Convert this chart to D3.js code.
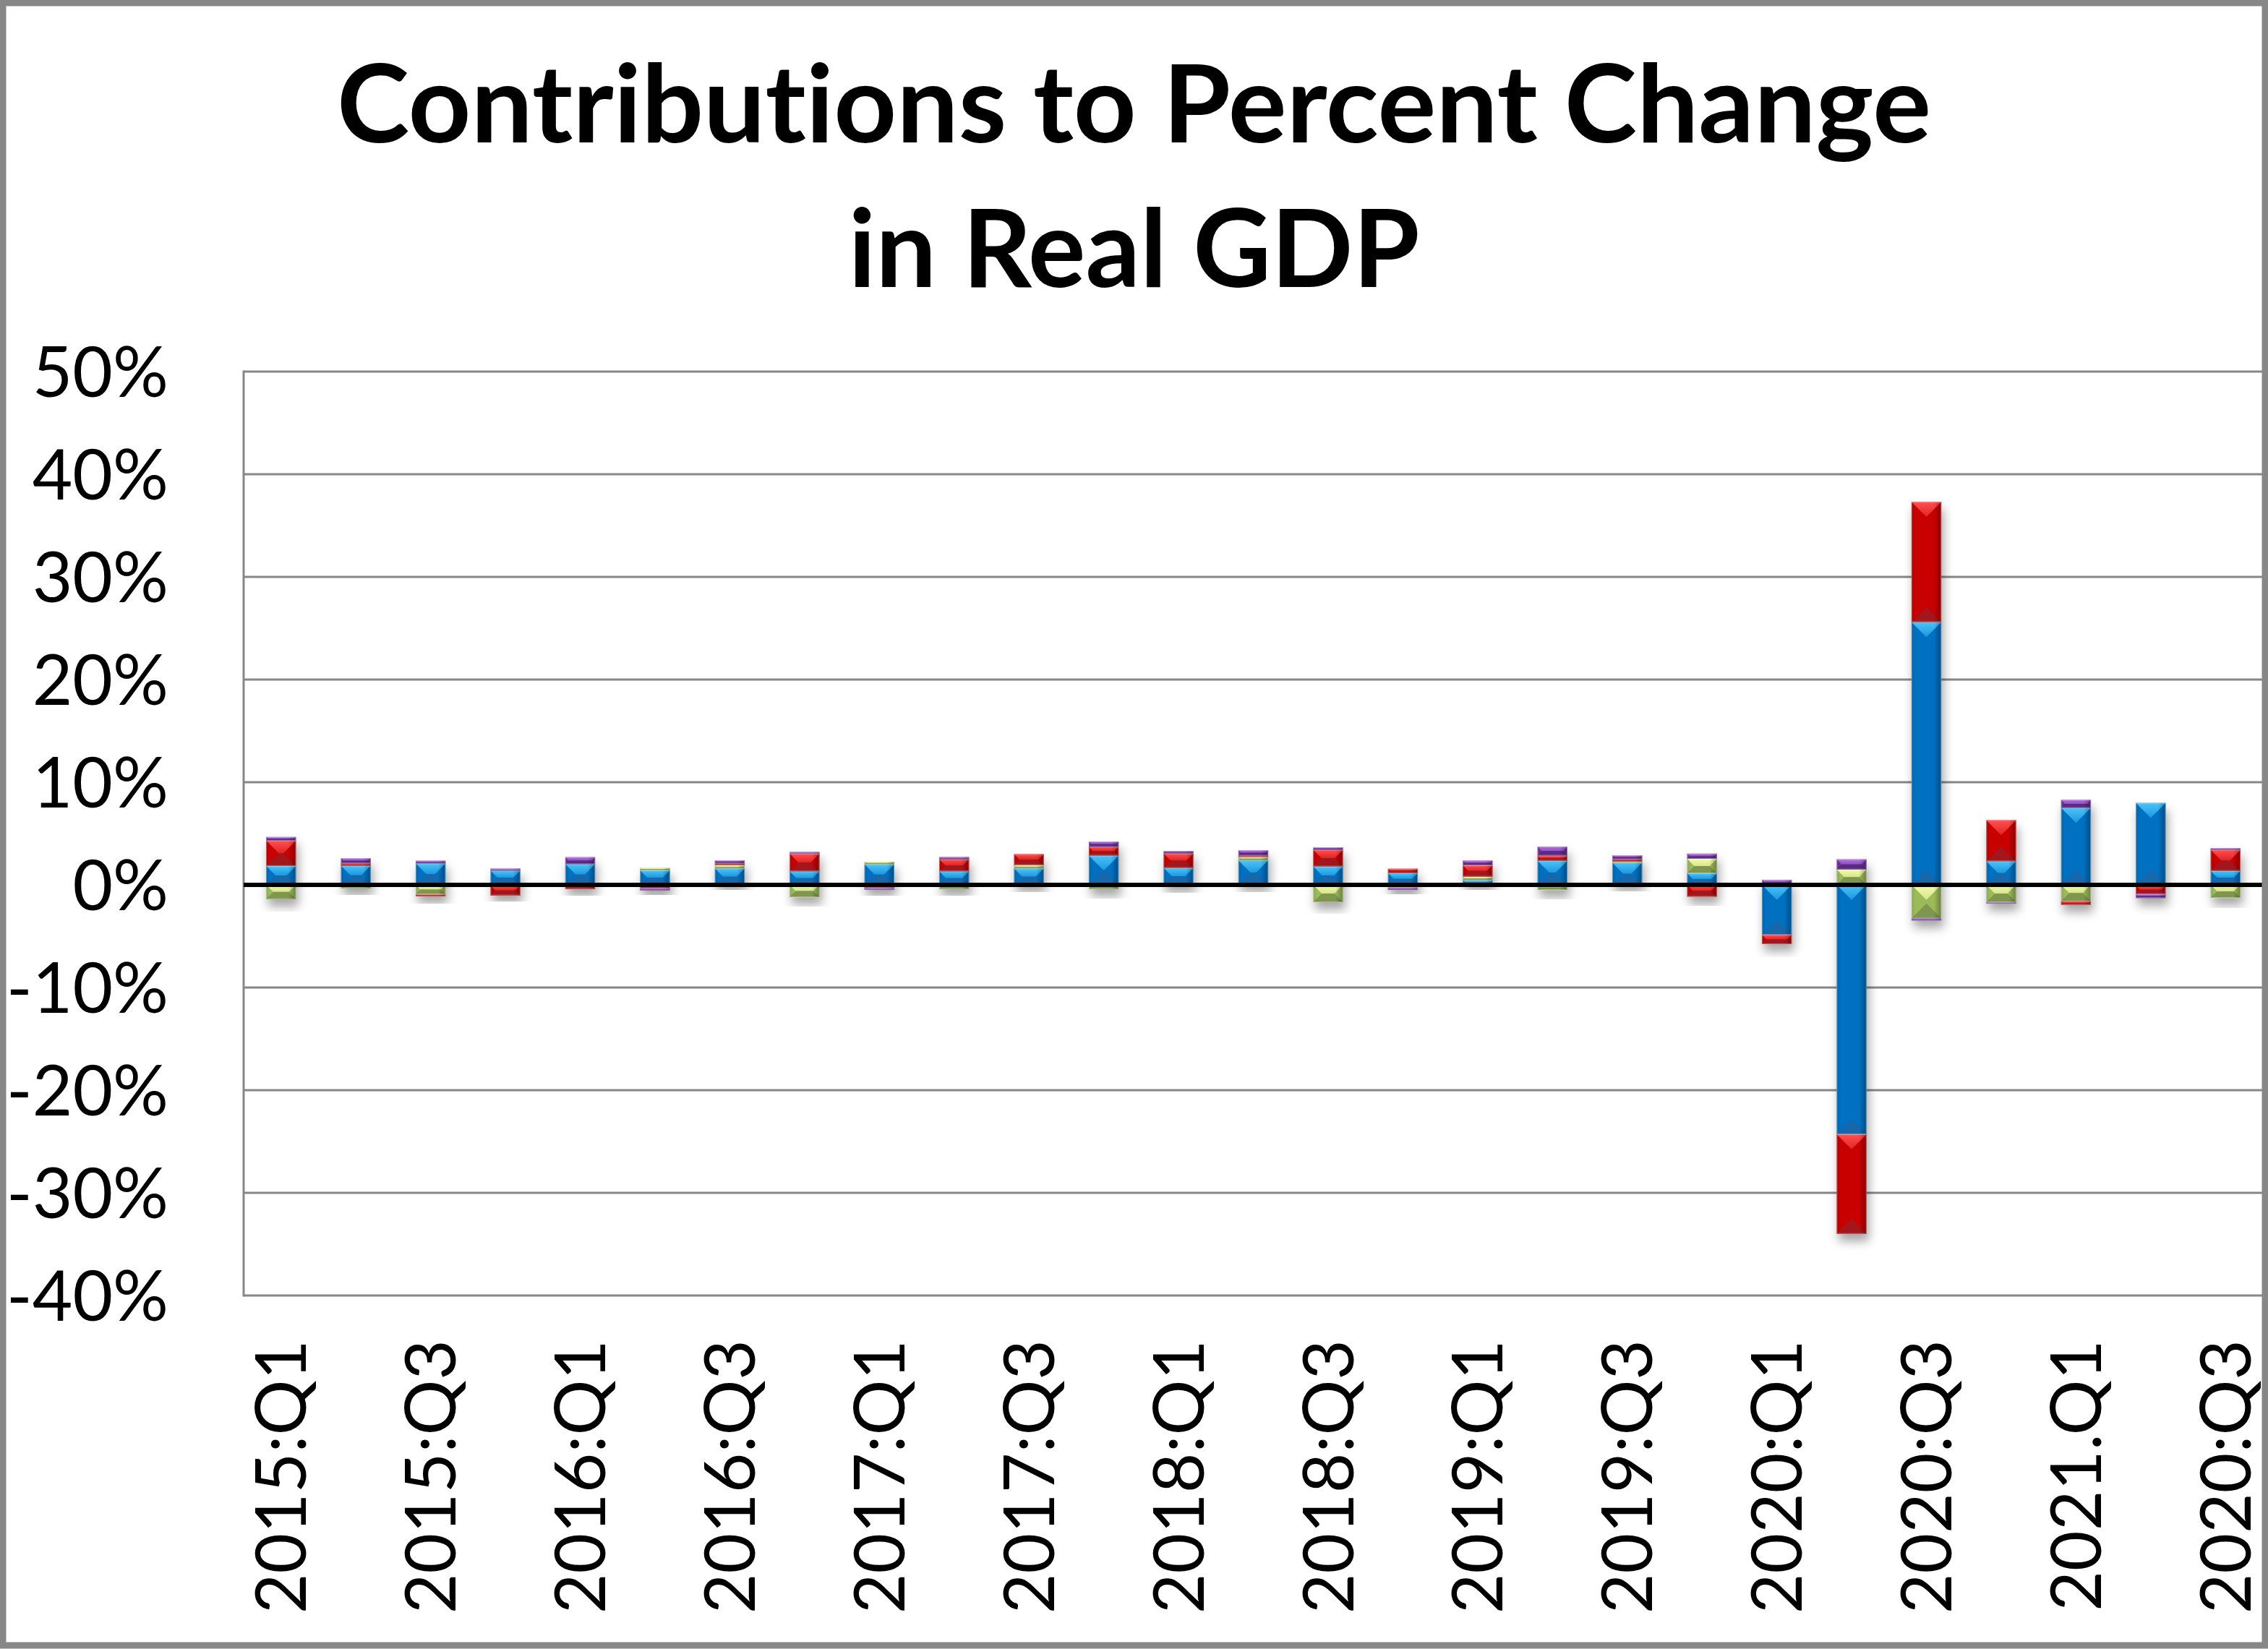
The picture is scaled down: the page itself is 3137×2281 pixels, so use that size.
<!DOCTYPE html>
<html>
<head>
<meta charset="utf-8">
<script src="https://cdn.jsdelivr.net/npm/d3@7"></script>
<style>
  html, body { margin: 0; padding: 0; background: #fff; }
  svg { display: block; }
  text { font-family: Lato, "Open Sans", sans-serif; fill: #000; font-variant-ligatures: none; }
</style>
</head>
<body>
<svg id="chart" width="3137" height="2281"></svg>
<script>
// quarters (labels kept as printed on the chart)
var categories = ["2015:Q1","2015:Q2","2015:Q3","2015:Q4","2016:Q1","2016:Q2","2016:Q3","2016:Q4",
  "2017:Q1","2017:Q2","2017:Q3","2017:Q4","2018:Q1","2018:Q2","2018:Q3","2018:Q4",
  "2019:Q1","2019:Q2","2019:Q3","2019:Q4","2020:Q1","2020:Q2","2020:Q3","2020:Q4",
  "2021.Q1","2021:Q2","2020:Q3"];

// contributions, percentage points
var consumption = [1.84,1.86,2.09,1.39,2.02,1.41,1.60,1.32,2.00,1.32,1.60,2.85,1.65,2.38,1.79,1.15,
  0.45,2.35,2.16,1.13,-4.87,-24.3,25.6,2.30,7.50,7.98,1.36];
var netExports = [-1.39,-0.33,-0.92,-0.05,-0.05,0.24,0.30,-1.20,0.26,-0.40,0.33,-0.40,-0.05,0.33,-1.69,-0.30,
  0.35,-0.50,0.10,1.41,0,1.50,-3.27,-1.69,-1.60,-0.05,-1.27];
var investment = [2.47,0.24,-0.19,-0.98,-0.35,-0.33,0.19,1.72,-0.30,1.18,1.06,0.85,1.41,0.14,1.62,0.42,
  1.10,0.50,0.24,-1.15,-0.90,-9.7,11.7,4.00,-0.33,-0.85,2.05];
var government = [0.35,0.50,0.26,0.19,0.68,-0.19,0.30,0.16,-0.15,0.21,-0.05,0.52,0.24,0.52,0.24,-0.20,
  0.47,0.87,0.38,0.50,0.50,0.99,-0.19,-0.10,0.78,-0.38,0.16];

var yTicks = [-40,-30,-20,-10,0,10,20,30,40,50];

var keys = ["consumption","netExports","investment","government"];
var colors = {
  consumption: {base:"#0070C0", light:"#4CC3F7", light2:"#1B98DF", dark:"#1467AB"},
  netExports:  {base:"#9BBB59", light:"#F4FBAE", light2:"#D6E68A", dark:"#7F9650"},
  investment:  {base:"#C80000", light:"#FF5050", light2:"#E02424", dark:"#A3181E"},
  government:  {base:"#7030A0", light:"#B070E0", light2:"#9050C0", dark:"#5A2A80"}
};

var rows = categories.map(function(c, i) {
  return {idx: i, consumption: consumption[i], netExports: netExports[i],
          investment: investment[i], government: government[i]};
});

var W = 3137, H = 2281;
var pLeft = 337, pRight = 3130, pTop = 514, pBottom = 1792;

var svg = d3.select("#chart");
var defs = svg.append("defs");

svg.append("rect").attr("width", W).attr("height", H).attr("fill", "#fff");

// index domain, since one label ("2020:Q3") is printed twice
var x = d3.scaleBand().domain(d3.range(categories.length)).range([pLeft, pRight])
  .paddingInner(0.6).paddingOuter(0.3);
var y = d3.scaleLinear().domain([-40, 50]).range([pBottom, pTop]);

// gradients
keys.forEach(function(k) {
  var g = defs.append("linearGradient").attr("id", "top-" + k)
    .attr("x1", 0).attr("y1", 0).attr("x2", 0).attr("y2", 1);
  g.append("stop").attr("offset", "0%").attr("stop-color", colors[k].light);
  g.append("stop").attr("offset", "100%").attr("stop-color", colors[k].light2);
});
var side = defs.append("linearGradient").attr("id", "side")
  .attr("x1", 0).attr("y1", 0).attr("x2", 1).attr("y2", 0);
side.append("stop").attr("offset", "0%").attr("stop-color", "#000").attr("stop-opacity", 0.12);
side.append("stop").attr("offset", "12%").attr("stop-color", "#000").attr("stop-opacity", 0);
side.append("stop").attr("offset", "75%").attr("stop-color", "#000").attr("stop-opacity", 0);
side.append("stop").attr("offset", "100%").attr("stop-color", "#000").attr("stop-opacity", 0.32);

var shadow = defs.append("filter").attr("id", "shadow")
  .attr("x", "-50%").attr("y", "-10%").attr("width", "200%").attr("height", "130%");
shadow.append("feDropShadow").attr("dx", 3).attr("dy", 10).attr("stdDeviation", 7)
  .attr("flood-color", "#000").attr("flood-opacity", 0.35);

// gridlines
svg.append("g").attr("class", "grid")
  .selectAll("line").data(yTicks).enter().append("line")
  .attr("x1", pLeft).attr("x2", pRight)
  .attr("y1", function(d){ return y(d); }).attr("y2", function(d){ return y(d); })
  .attr("stroke", "#878787").attr("stroke-width", 3);

svg.append("line").attr("x1", pLeft).attr("x2", pLeft).attr("y1", pTop - 1.5).attr("y2", pBottom + 1.5)
  .attr("stroke", "#878787").attr("stroke-width", 3);

// stacked bars
var series = d3.stack().keys(keys).offset(d3.stackOffsetDiverging)(rows);

var bars = svg.append("g").attr("class", "bars");
var bw = x.bandwidth();
var cols = bars.selectAll("g.col").data(rows).enter().append("g")
  .attr("class", "col").attr("filter", "url(#shadow)");

series.forEach(function(s) {
  var k = s.key;
  s.forEach(function(seg, i) {
    var y0 = y(Math.max(seg[0], seg[1])), y1 = y(Math.min(seg[0], seg[1]));
    var h = y1 - y0;
    if (h <= 0.01) return;
    var x0 = x(i);
    var d = Math.min(bw / 2, h / 2);
    var g = d3.select(cols.nodes()[i]);
    g.append("rect").attr("x", x0).attr("y", y0).attr("width", bw).attr("height", h)
      .attr("fill", colors[k].base);
    g.append("path").attr("fill", "url(#top-" + k + ")")
      .attr("d", "M" + x0 + "," + y0 + "H" + (x0 + bw) + "L" + (x0 + bw - d) + "," + (y0 + d) +
        "H" + (x0 + d) + "Z");
    g.append("path").attr("fill", colors[k].dark)
      .attr("d", "M" + x0 + "," + y1 + "H" + (x0 + bw) + "L" + (x0 + bw - d) + "," + (y1 - d) +
        "H" + (x0 + d) + "Z");
    g.append("rect").attr("x", x0).attr("y", y0).attr("width", bw).attr("height", h)
      .attr("fill", "url(#side)");
    g.append("rect").attr("x", x0 + 0.5).attr("y", y0 + 0.5).attr("width", bw - 1).attr("height", Math.max(h - 1, 0))
      .attr("fill", "none").attr("stroke", "#fff").attr("stroke-opacity", 0.35).attr("stroke-width", 1);
  });
});

// zero line
svg.append("line").attr("x1", pLeft).attr("x2", pRight).attr("y1", y(0)).attr("y2", y(0))
  .attr("stroke", "#000").attr("stroke-width", 6);

// y axis
var yAxis = svg.append("g").attr("transform", "translate(" + pLeft + ",0)")
  .call(d3.axisLeft(y).tickValues(yTicks).tickSize(0).tickPadding(104)
    .tickFormat(function(d){ return d + "%"; }));
yAxis.select(".domain").remove();
yAxis.selectAll("text").attr("font-size", 96).attr("font-family", "Lato, sans-serif")
  .attr("dy", "0.36em").style("fill", "#000");

// x axis
var xAxis = svg.append("g").attr("transform", "translate(0," + pBottom + ")")
  .call(d3.axisBottom(x).tickValues(d3.range(0, categories.length, 2)).tickSize(0)
    .tickFormat(function(i){ return categories[i]; }));
xAxis.select(".domain").remove();
xAxis.selectAll("text").attr("font-size", 96).attr("font-family", "Lato, sans-serif")
  .attr("transform", "rotate(-90)").attr("text-anchor", "end")
  .attr("x", -61).attr("y", 0).attr("dy", "0.36em").style("fill", "#000");

// title
var titleLines = ["Contributions to Percent Change", "in Real GDP"];
var titleBase = [197, 397];
var titleWidth = [2205, 790];
titleLines.forEach(function(t, i) {
  svg.append("text").attr("x", W / 2).attr("y", titleBase[i])
    .attr("text-anchor", "middle").attr("font-size", 150).attr("font-weight", 700)
    .attr("font-family", "Lato, sans-serif")
    .attr("textLength", titleWidth[i]).attr("lengthAdjust", "spacingAndGlyphs").text(t);
});

// outer border
svg.append("rect").attr("x", 4).attr("y", 4).attr("width", W - 8).attr("height", H - 9)
  .attr("fill", "none").attr("stroke", "#878787").attr("stroke-width", 9);
</script>
</body>
</html>
